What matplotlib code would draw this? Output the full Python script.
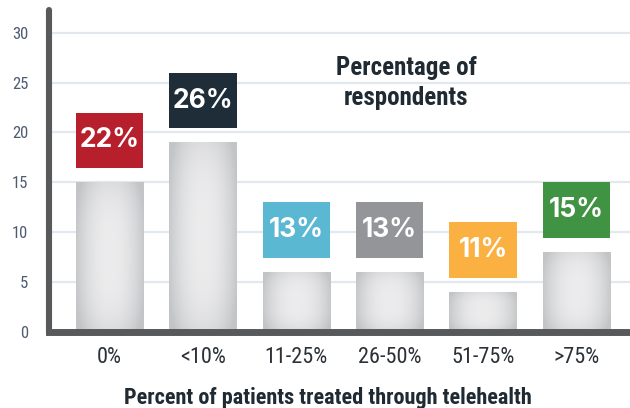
import matplotlib
matplotlib.use('Agg')
import matplotlib.pyplot as plt
import numpy as np
from matplotlib import font_manager

categories = ['0%', '<10%', '11-25%', '26-50%', '51-75%', '>75%']
bar_values = [15, 19, 6, 6, 4, 8]
pct_values = [22, 26, 13, 13, 11, 15]
pct_labels = ['22%', '26%', '13%', '13%', '11%', '15%']
box_colors = ['#b81f2d', '#1f2d38', '#5bb8d3', '#939598', '#fbb142', '#3f9343']
y_ticks = [0, 5, 10, 15, 20, 25, 30]
title_text = 'Percentage of\nrespondents'
xlabel_text = 'Percent of patients treated through telehealth'

fl = font_manager.fontManager.ttflist


def pick(cands, need_bold=True):
    for name in cands:
        ws = [f.weight for f in fl if f.name == name]
        ws = [w if isinstance(w, int) else 400 for w in ws]
        if ws and (not need_bold or max(ws) >= 700):
            return name
    return 'Roboto'


narrow = pick(['Roboto Condensed', 'Archivo Narrow', 'Barlow Condensed', 'Liberation Sans Narrow'])
narrow_reg = pick(['Roboto Condensed', 'Archivo Narrow', 'Barlow Condensed', 'Liberation Sans Narrow'], False)
boxfont = pick(['Libre Franklin', 'Inter'])

W, H = 630, 408
fig = plt.figure(figsize=(W / 100, H / 100), dpi=100)
ax = fig.add_axes([49 / W, 76.5 / H, 581 / W, 321.5 / H])

x = np.arange(len(categories))
bar_w = 0.72
box_h = 5.6

bars = ax.bar(x, bar_values, width=bar_w, color='#e0e0e0', zorder=2)

# radial-ish gradient fill clipped to each bar
gy, gx = np.mgrid[0:1:200j, 0:1:200j]
dx = np.abs(gx - 0.5) / 0.5
dy = np.abs(gy - 0.5) / 0.5
f = np.clip(0.9 * dx ** 2.2 + 0.4 * dy ** 3, 0, 1)
center = np.array([0.925, 0.925, 0.93])
edge = np.array([0.765, 0.77, 0.78])
grad = center[None, None, :] * (1 - f[..., None]) + edge[None, None, :] * f[..., None]
for b in bars:
    x0, w, h0 = b.get_x(), b.get_width(), b.get_height()
    im = ax.imshow(grad, extent=[x0, x0 + w, 0, h0], aspect='auto',
                   zorder=2.1, interpolation='bilinear')
    im.set_clip_path(b)

ax.bar(x, [box_h] * len(x), bottom=[p - box_h for p in pct_values],
       width=bar_w, color=box_colors, zorder=3)
for xi, p, lab in zip(x, pct_values, pct_labels):
    ax.text(xi, p - box_h / 2, lab, ha='center', va='center', color='white',
            fontsize=19, fontweight='bold', family=boxfont, zorder=4)

ax.set_xlim(-0.648, 5.573)
ax.set_ylim(0, 32.3)
ax.set_yticks(y_ticks)
ax.set_xticks(x)
ax.set_xticklabels(categories)
ax.yaxis.grid(True, color='#e3e8ee', linewidth=1.6, zorder=0)
ax.set_axisbelow(True)

ax.tick_params(axis='x', length=0, pad=11.5, labelsize=16, labelcolor='#2b3136')
ax.tick_params(axis='y', length=0, pad=15, labelsize=12, labelcolor='#4d5b73')
for lab in ax.get_xticklabels() + ax.get_yticklabels():
    lab.set_family(narrow_reg)

for s in ['top', 'right']:
    ax.spines[s].set_visible(False)
ax.spines['left'].set_linewidth(4.4)
ax.spines['left'].set_color('#58595b')
ax.spines['left'].set_capstyle('round')
ax.spines['bottom'].set_linewidth(5)
ax.spines['bottom'].set_color('#58595b')
ax.spines['left'].set_zorder(5)
ax.spines['bottom'].set_zorder(5)

fig.text(406 / W, (H - 56) / H, title_text, ha='center', va='top',
         fontsize=18, fontweight='bold', family=narrow, color='#1f2a33',
         linespacing=1.3)
fig.text(328 / W, 4 / H, xlabel_text, ha='center', va='baseline',
         fontsize=16, fontweight='bold', family=narrow, color='#1f2a33')

fig.savefig('out.png', dpi=100)
